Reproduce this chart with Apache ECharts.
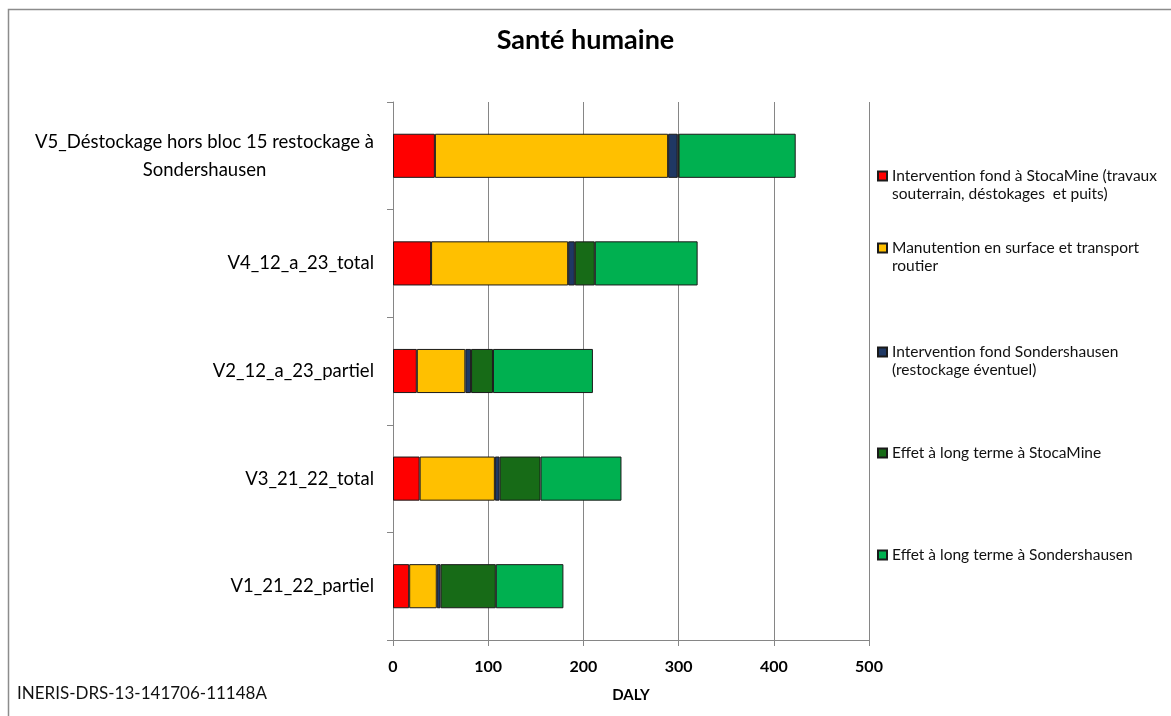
<!DOCTYPE html>
<html>
<head>
<meta charset="utf-8">
<script src="https://cdn.jsdelivr.net/npm/echarts@6/dist/echarts.min.js"></script>
<style>html,body{margin:0;padding:0;background:#fff;}#c{width:1171px;height:716px;}</style>
</head>
<body>
<div id="c"></div>
<script>
const categories = ['V1_21_22_partiel', 'V3_21_22_total', 'V2_12_a_23_partiel', 'V4_12_a_23_total', 'V5_Déstockage hors bloc 15 restockage à Sondershausen'];
const seriesNames = [
  'Intervention fond à StocaMine (travaux souterrain, déstokages  et puits)',
  'Manutention en surface et transport routier',
  'Intervention fond Sondershausen (restockage éventuel)',
  'Effet à long terme à StocaMine',
  'Effet à long terme à Sondershausen'
];
const legendLabels = [
  'Intervention fond à StocaMine (travaux\nsouterrain, déstokages  et puits)',
  'Manutention en surface et transport\nroutier',
  'Intervention fond Sondershausen\n(restockage éventuel)',
  'Effet à long terme à StocaMine',
  'Effet à long terme à Sondershausen'
];
const interventionStocamine = [17, 28, 25, 40, 44];
const manutention = [29, 79, 51, 144, 245];
const interventionSondershausen = [4, 5, 6, 7, 10];
const effetStocamine = [58, 43, 23, 21, 1];
const effetSondershausen = [71, 85, 105, 108, 123];
const xTicks = [0, 100, 200, 300, 400, 500];

const seriesData = [interventionStocamine, manutention, interventionSondershausen, effetStocamine, effetSondershausen];
const colors = ['#FF0000', '#FFC000', '#1F3864', '#176B17', '#00B050'];
const FONT = 'Lato';

const chart = echarts.init(document.getElementById('c'));
const legendTops = [149, 221, 325, 444, 546];
const legends = seriesNames.map((n, i) => {
  const twoLine = legendLabels[i].indexOf('\n') >= 0;
  return {
    show: true,
    data: [n],
    orient: 'vertical',
    left: 877,
    top: legendTops[i],
    padding: 0,
    itemWidth: 9,
    itemHeight: 9,
    itemGap: 0,
    icon: 'rect',
    selectedMode: false,
    formatter: () => (twoLine ? ' \n' + legendLabels[i] : legendLabels[i]),
    textStyle: { fontFamily: FONT, fontSize: 15.5, color: '#111', lineHeight: 18 }
  };
});

chart.setOption({
  animation: false,
  textStyle: { fontFamily: FONT },
  title: {
    text: 'Santé humaine',
    left: 'center',
    top: 22,
    textStyle: { fontFamily: FONT, fontSize: 27, fontWeight: 'bold', color: '#000' }
  },
  legend: legends,
  grid: { left: 393, right: 302, top: 102, bottom: 76, containLabel: false },
  xAxis: {
    type: 'value',
    min: 0, max: 500, interval: 100,
    name: 'DALY',
    nameLocation: 'middle',
    nameGap: 48,
    nameTextStyle: { fontFamily: FONT, fontSize: 15, fontWeight: 'bold', color: '#000' },
    axisLine: { show: true, lineStyle: { color: '#868686', width: 1 } },
    axisTick: { show: true, length: 6, lineStyle: { color: '#868686' } },
    axisLabel: {
      margin: 19, fontFamily: FONT, fontSize: 16, fontWeight: 'bold', color: '#000',
      formatter: v => (xTicks.indexOf(v) >= 0 ? String(v) : '')
    },
    splitLine: { show: true, lineStyle: { color: '#868686', width: 1 } }
  },
  yAxis: {
    type: 'category',
    data: categories,
    axisLine: { show: true, lineStyle: { color: '#868686', width: 1 } },
    axisTick: { show: true, length: 6, lineStyle: { color: '#868686' } },
    axisLabel: {
      margin: 19, fontFamily: FONT, fontSize: 18.5, color: '#000', lineHeight: 28,
      formatter: v => {
        if (v.indexOf('V5_') === 0) {
          return '{a|V5_Déstockage hors bloc 15 restockage à}\n{a|Sondershausen}';
        }
        return v;
      },
      rich: { a: { fontFamily: FONT, fontSize: 18.5, color: '#000', width: 339, align: 'center', lineHeight: 28 } }
    },
    splitLine: { show: false }
  },
  series: seriesNames.map((n, i) => ({
    name: n,
    type: 'bar',
    stack: 'total',
    barCategoryGap: '59%',
    data: seriesData[i],
    itemStyle: { color: colors[i], borderColor: '#1a1a1a', borderWidth: 1 },
    emphasis: { disabled: true }
  })),
  graphic: [
    { type: 'rect', left: 6, top: 7, shape: { width: 1200, height: 800 }, style: { fill: 'none', stroke: '#8c8c8c', lineWidth: 1.5 }, silent: true, z: -1 },
    { type: 'text', left: 17, top: 685, style: { text: 'INERIS-DRS-13-141706-11148A', fontFamily: FONT, fontSize: 17, fill: '#111' } }
  ]
});
</script>
</body>
</html>
